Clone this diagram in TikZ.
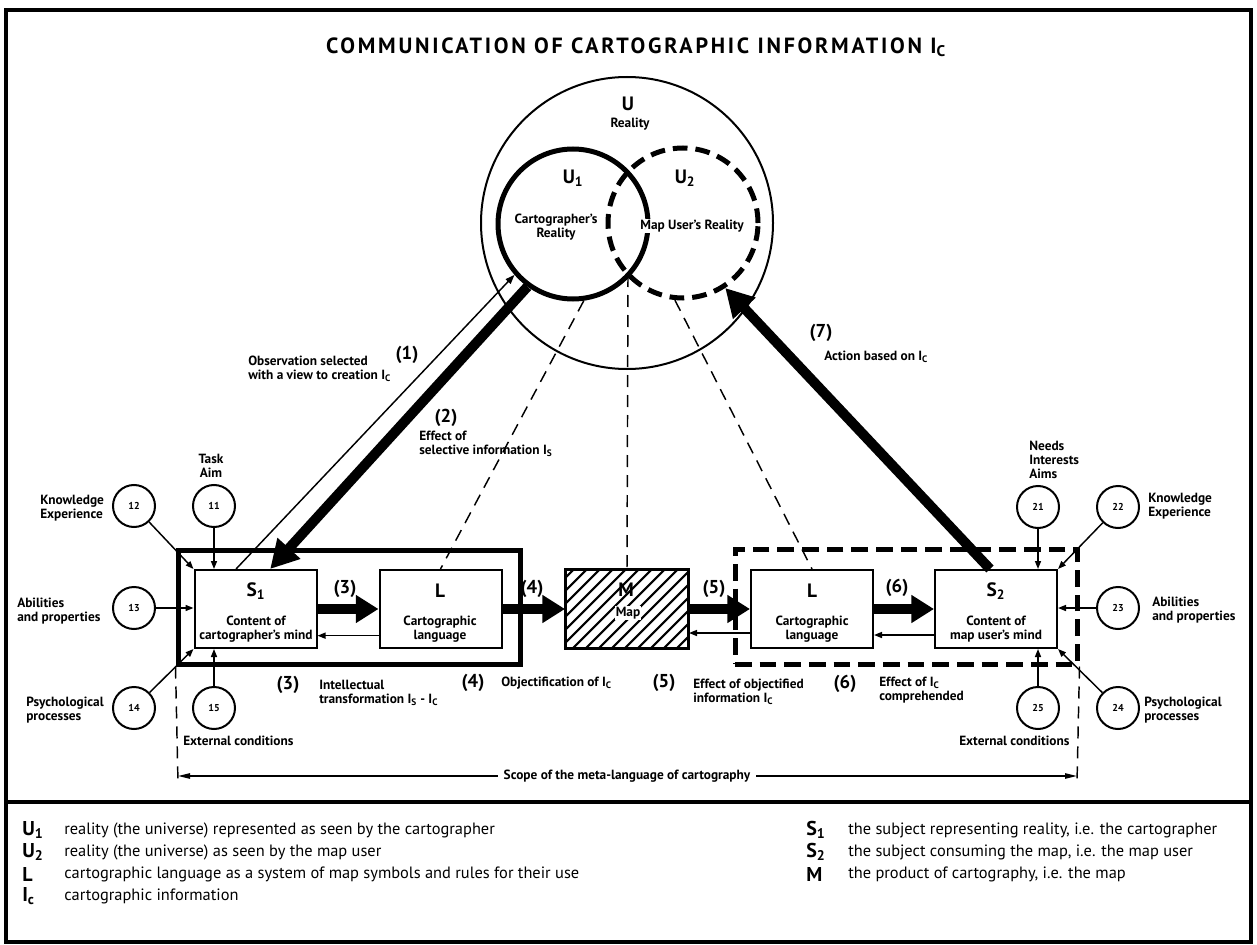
\documentclass[tikz,border=0pt]{standalone}
\usepackage{fontspec}
\setmainfont{PT Sans}
\usetikzlibrary{arrows.meta}
\begin{document}
\begin{tikzpicture}[x=0.75pt,y=-0.75pt,
  every node/.style={inner sep=0pt},
  box/.style={draw, line width=1.5pt, minimum width=91.5pt, minimum height=58.5pt},
  dot/.style={draw, circle, line width=1.5pt, minimum size=31.5pt, font=\fontsize{7.5}{8}\selectfont\bfseries},
  big/.style={font=\fontsize{14.5}{16}\selectfont\bfseries},
  num/.style={font=\fontsize{14}{16}\selectfont\bfseries},
  lbl/.style={font=\fontsize{10}{10.5}\selectfont\bfseries, align=left},
  clbl/.style={font=\fontsize{10}{10.5}\selectfont\bfseries, align=center},
  thinarrow/.style={line width=1.1pt, -{Triangle[length=6pt,width=4.5pt]}},
  fatarrow/.style={line width=7.5pt, -{Triangle[length=17pt,width=20pt]}},
  hugearrow/.style={line width=7.5pt, -{Triangle[length=21pt,width=22pt]}},
  guide/.style={line width=1.1pt, dash pattern=on 9pt off 6pt},
  legsym/.style={anchor=west, font=\fontsize{15}{16}\selectfont\bfseries},
  legtxt/.style={anchor=west, font=\fontsize{12.3}{13}\selectfont},
]
\useasboundingbox (0,0) rectangle (1257,945);

% outer frame and legend separator
\draw[line width=3pt] (6,10) rectangle (1251,942);
\draw[line width=2.5pt] (6,802) -- (1251,802);

% title
\node[font=\fontsize{16.5}{18}\selectfont\bfseries\addfontfeatures{LetterSpace=12.5}] (title) at (636,47)
  {COMMUNICATION OF CARTOGRAPHIC INFORMATION I\textsubscript{C}};

% realities
\node[draw, circle, line width=1.5pt, minimum size=219pt] (u) at (627,223) {};
\node[draw, circle, line width=3.75pt, minimum size=112.5pt] (u1) at (573,224) {};
\node[draw, circle, line width=3.75pt, dash pattern=on 11pt off 6pt, minimum size=112.5pt] (u2) at (683,223) {};
\coordinate (ux) at (628,275);

\node[big] at (628,104) {U};
\node[clbl] at (630,124) {Reality};
\node[big] at (573,178) {U\textsubscript{1}};
\node[clbl] at (556,227) {Cartographer’s\\Reality};
\node[big] at (685,178) {U\textsubscript{2}};
\node[clbl, fill=white, inner sep=1pt] at (692,226) {Map User’s Reality};

% boxes
\node[box] (s1) at (255.5,609) {};
\node[box] (l1) at (440.5,609) {};
\node[box] (m)  at (627,609) {};
\node[box] (l2) at (812,609) {};
\node[box] (s2) at (996,609) {};

\begin{scope}
  \clip (m.south west) rectangle (m.north east);
  \foreach \x in {470,483,...,700}
    \draw[line width=1.6pt] (\x,660) -- ++(100,-100);
\end{scope}
\draw[line width=1.5pt] (m.south west) rectangle (m.north east);

\node[big] at (256,591) {S\textsubscript{1}};
\node[clbl] at (256,629) {Content of\\cartographer’s mind};
\node[big] at (440,591) {L};
\node[clbl] at (440,629) {Cartographic\\language};
\node[big] at (626,590) {M};
\node[clbl, fill=white, inner sep=0.6pt] at (628,613) {Map};
\node[big] at (812,591) {L};
\node[clbl] at (812,629) {Cartographic\\language};
\node[big] at (996,591) {S\textsubscript{2}};
\node[clbl] at (996,629) {Content of\\map user’s mind};

% frames of the two subjects
\node[draw, line width=3.75pt, minimum width=256.5pt, minimum height=85.5pt] (lf) at (349,607) {};
\node[draw, line width=3.75pt, dash pattern=on 12.5pt off 6pt, minimum width=256.5pt, minimum height=86.25pt] (rf) at (906,606.5) {};

% guide lines from the realities
\draw[guide] (u1.-82) -- (l1.north);
\draw[guide] (ux) -- (m.north);
\draw[guide] (u2.-96) -- (l2.north);

% flows between the boxes
\draw[fatarrow] (s1.east) -- (l1.west);
\draw[thinarrow] ([yshift=-20pt]l1.west) -- ([yshift=-20pt]s1.east);
\draw[fatarrow] (l1.east) -- (m.west);
\draw[fatarrow] (m.east) -- (l2.west);
\draw[thinarrow] ([yshift=-18pt]l2.west) -- ([yshift=-18pt]m.east);
\draw[fatarrow] (l2.east) -- (s2.west);
\draw[thinarrow] ([yshift=-19.5pt]s2.west) -- ([yshift=-19.5pt]l2.east);

\node[num] at (345,589) {(3)};
\node[num] at (532,589) {(4)};
\node[num] at (714,589) {(5)};
\node[num] at (897,588) {(6)};

% observation and action
\draw[line width=1.1pt, -{Triangle[length=7pt,width=5pt]}] ([xshift=-14.6pt]s1.north) -- (u1.221);
\draw[hugearrow] (u1.234) -- ([xshift=11pt]s1.north);
\draw[hugearrow] ([xshift=-4.5pt]s2.north) -- (u2.-57);

\node[num] at (407,355) {(1)};
\node[lbl, anchor=west] at (248,369) {Observation selected\\with a view to creation I\textsubscript{C}};
\node[num] at (446,418) {(2)};
\node[lbl, anchor=west] at (419,444) {Effect of\\selective information I\textsubscript{S}};
\node[num] at (821,333) {(7)};
\node[lbl, anchor=west] at (824,357) {Action based on I\textsubscript{C}};

% factors of the cartographer
\node[dot] (c11) at (214,506) {11};
\node[dot] (c12) at (134,506) {12};
\node[dot] (c13) at (134,608) {13};
\node[dot] (c14) at (134,708) {14};
\node[dot] (c15) at (214,708) {15};
\draw[thinarrow] (c11) -- (c11 |- s1.north);
\draw[thinarrow] (c12) -- (s1.north west);
\draw[thinarrow] (c13) -- (c13 -| s1.west);
\draw[thinarrow] (c14) -- (s1.south west);
\draw[thinarrow] (c15) -- (c15 |- s1.south);
\node[lbl, align=center] at (211,466) {Task\\Aim};
\node[lbl, anchor=west] at (40,508) {Knowledge\\Experience};
\node[lbl, anchor=west] at (17,611) {Abilities\\and properties};
\node[lbl, anchor=west] at (26,710) {Psychological\\processes};
\node[lbl, anchor=west] at (183,741) {External conditions};

% factors of the map user
\node[dot] (c21) at (1038,507) {21};
\node[dot] (c22) at (1118,507) {22};
\node[dot] (c23) at (1118,608) {23};
\node[dot] (c24) at (1118,708) {24};
\node[dot] (c25) at (1038,708) {25};
\draw[thinarrow] (c21) -- (c21 |- s2.north);
\draw[thinarrow] (c22) -- (s2.north east);
\draw[thinarrow] (c23) -- (c23 -| s2.east);
\draw[thinarrow] (c24) -- (s2.south east);
\draw[thinarrow] (c25) -- (c25 |- s2.south);
\node[lbl, anchor=west] at (1029,460) {Needs\\Interests\\Aims};
\node[lbl, anchor=west] at (1148,506) {Knowledge\\Experience};
\node[lbl, anchor=west] at (1152,610) {Abilities\\and properties};
\node[lbl, anchor=west] at (1144,710) {Psychological\\processes};
\node[lbl, anchor=west] at (959,741) {External conditions};

% stage captions
\node[num] at (288,685) {(3)};
\node[lbl, anchor=west] at (319,693) {Intellectual\\transformation I\textsubscript{S} - I\textsubscript{C}};
\node[num] at (473,683) {(4)};
\node[lbl, anchor=west] at (501,683) {Objectification of I\textsubscript{C}};
\node[num] at (664,683) {(5)};
\node[lbl, anchor=west] at (693,692) {Effect of objectified\\information I\textsubscript{C}};
\node[num] at (845,684) {(6)};
\node[lbl, anchor=west] at (879,690) {Effect of I\textsubscript{C}\\comprehended};

% scope of the meta-language
\coordinate (tl) at (178,783);
\coordinate (tr) at (1077,783);
\coordinate (sl) at (178,776);
\coordinate (sr) at (1077,776);
\draw[guide] (lf.south west) -- (tl);
\draw[guide] (rf.south east) -- (tr);
\draw[line width=1.1pt, {Triangle[length=9pt,width=4pt]}-{Triangle[length=9pt,width=4pt]}] (sl) -- (sr);
\node[lbl, fill=white, inner xsep=4pt, inner ysep=1pt] (scope) at (627,776) {Scope of the meta-language of cartography};

% legend
\node[legsym] at (22,830) {U\textsubscript{1}};
\node[legtxt] at (64,830) {reality (the universe) represented as seen by the cartographer};
\node[legsym] at (22,852) {U\textsubscript{2}};
\node[legtxt] at (64,852) {reality (the universe) as seen by the map user};
\node[legsym] at (22,874) {L};
\node[legtxt] at (64,874) {cartographic language as a system of map symbols and rules for their use};
\node[legsym] at (22,896) {I\textsubscript{c}};
\node[legtxt] at (64,896) {cartographic information};

\node[legsym] at (806,830) {S\textsubscript{1}};
\node[legtxt] at (848,830) {the subject representing reality, i.e. the cartographer};
\node[legsym] at (806,852) {S\textsubscript{2}};
\node[legtxt] at (848,852) {the subject consuming the map, i.e. the map user};
\node[legsym] at (806,874) {M};
\node[legtxt] at (848,874) {the product of cartography, i.e. the map};
\end{tikzpicture}
\end{document}
